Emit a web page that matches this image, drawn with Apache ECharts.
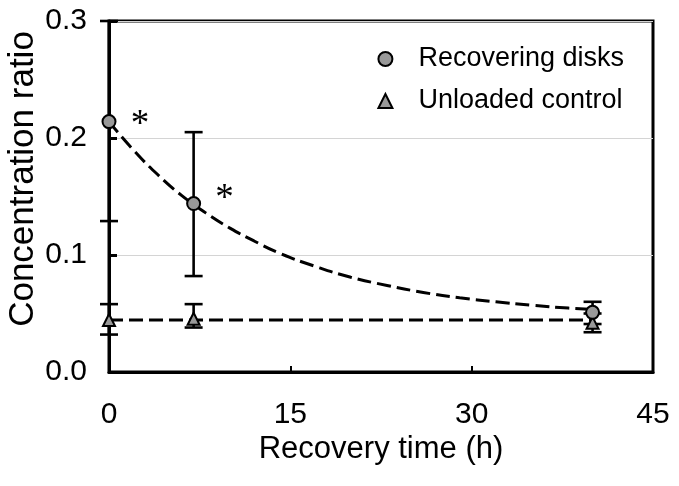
<!DOCTYPE html>
<html>
<head>
<meta charset="utf-8">
<script src="https://cdn.jsdelivr.net/npm/echarts@6/dist/echarts.min.js"></script>
<style>
html,body{margin:0;padding:0;background:#fff;}
#chart{width:679px;height:486px;}
</style>
</head>
<body>
<div id="chart"></div>
<script>
// ---- data ----
const seriesNames = ['Recovering disks', 'Unloaded control'];
const timeRecovering = [0, 7, 40];
const meanRecovering = [0.214, 0.144, 0.051];
const lowRecovering  = [0.129, 0.082, 0.041];
const highRecovering = [0.300, 0.205, 0.060];
const sigRecovering  = ['*', '*', ''];

const timeControl = [0, 7, 40];
const meanControl = [0.0445, 0.0455, 0.042];
const lowControl  = [0.032, 0.038, 0.034];
const highControl = [0.058, 0.058, 0.050];

// dashed fit curves
const fitTime      = [0, 2, 4, 6, 8, 10, 12, 14, 17, 20, 23, 26, 29, 32, 35, 38, 40];
const fitRecovering = [0.214, 0.190, 0.169, 0.151, 0.136, 0.123, 0.112, 0.102, 0.0905, 0.081, 0.074, 0.068, 0.0634, 0.060, 0.057, 0.0546, 0.0534];
const fitControlTime = [0, 40];
const fitControl     = [0.0445, 0.0445];

const xTickMin = 0, xTickMax = 45, xTickStep = 15;
const yTickMin = 0, yTickMax = 0.3, yTickStep = 0.1;

// ---- styles ----
const FONT = 'Liberation Sans, Arial, Helvetica, sans-serif';
const asteriskOffsets = [[31, 4], [31, -4], [0, 0]];

const zip = (a, b) => a.map((v, i) => [v, b[i]]);

function errorBarSeries(times, lows, highs) {
  return {
    type: 'custom',
    z: 3,
    silent: true,
    data: times.map((t, i) => [t, lows[i], highs[i]]),
    renderItem: function (params, api) {
      const x = api.value(0);
      const pLo = api.coord([x, api.value(1)]);
      const pHi = api.coord([x, api.value(2)]);
      const w = 9;
      const st = { stroke: '#000', lineWidth: 2.6 };
      return {
        type: 'group',
        children: [
          { type: 'line', shape: { x1: pLo[0], y1: pLo[1], x2: pHi[0], y2: pHi[1] }, style: st },
          { type: 'line', shape: { x1: pLo[0] - w, y1: pLo[1], x2: pLo[0] + w, y2: pLo[1] }, style: st },
          { type: 'line', shape: { x1: pHi[0] - w, y1: pHi[1], x2: pHi[0] + w, y2: pHi[1] }, style: st }
        ]
      };
    }
  };
}

const chart = echarts.init(document.getElementById('chart'), null, { renderer: 'canvas' });

const option = {
  animation: false,
  backgroundColor: '#fff',
  textStyle: { fontFamily: FONT },
  grid: {
    left: 109, right: 26, top: 21, bottom: 114,
    outerBoundsMode: 'none',
    containLabel: false,
    show: true, borderColor: '#000', borderWidth: 3, backgroundColor: 'transparent'
  },
  legend: {
    orient: 'vertical',
    right: 50,
    top: 39,
    itemGap: 12,
    itemWidth: 14,
    itemHeight: 14,
    align: 'left',
    data: seriesNames,
    textStyle: { fontSize: 27, color: '#000', fontFamily: FONT, padding: [0, 0, 0, 21], lineHeight: 30 }
  },
  xAxis: {
    type: 'value',
    min: xTickMin, max: xTickMax, interval: xTickStep,
    name: 'Recovery time (h)',
    nameLocation: 'middle',
    nameGap: 62,
    nameMoveOverlap: false,
    nameTextStyle: { fontSize: 31, color: '#000', fontFamily: FONT },
    axisLine: { show: true, lineStyle: { color: '#000', width: 3 } },
    axisTick: { show: true, inside: true, length: 6, lineStyle: { color: '#000', width: 2 } },
    axisLabel: { fontSize: 30, color: '#000', margin: 28, fontFamily: FONT },
    splitLine: { show: false }
  },
  yAxis: {
    type: 'value',
    min: yTickMin, max: yTickMax, interval: yTickStep,
    name: 'Concentration ratio',
    nameLocation: 'middle',
    nameGap: 68,
    nameMoveOverlap: false,
    nameTextStyle: { fontSize: 35, color: '#000', fontFamily: FONT, padding: [0, 0, 0, 35] },
    axisLine: { show: true, lineStyle: { color: '#000', width: 3 } },
    axisTick: { show: true, inside: true, length: 8, lineStyle: { color: '#000', width: 3 } },
    axisLabel: { fontSize: 30, color: '#000', margin: 22, fontFamily: FONT, formatter: v => v.toFixed(1) },
    splitLine: { show: true, lineStyle: { color: '#d4d4d4', width: 1 } }
  },
  series: [
    {
      name: 'fit-recovering',
      type: 'line',
      z: 2,
      silent: true,
      smooth: true,
      showSymbol: false,
      symbol: 'none',
      data: zip(fitTime, fitRecovering),
      lineStyle: { color: '#000', width: 3, type: [14, 6] }
    },
    {
      name: 'fit-control',
      type: 'line',
      z: 2,
      silent: true,
      showSymbol: false,
      symbol: 'none',
      data: zip(fitControlTime, fitControl),
      lineStyle: { color: '#000', width: 3, type: [14, 6] }
    },
    errorBarSeries(timeRecovering, lowRecovering, highRecovering),
    errorBarSeries(timeControl, lowControl, highControl),
    {
      name: seriesNames[0],
      type: 'scatter',
      z: 5,
      symbol: 'circle',
      symbolSize: 13,
      itemStyle: { color: '#999', borderColor: '#000', borderWidth: 2, opacity: 1 },
      data: timeRecovering.map((t, i) => ({
        value: [t, meanRecovering[i]],
        label: {
          show: sigRecovering[i] !== '',
          formatter: sigRecovering[i],
          position: 'inside',
          offset: asteriskOffsets[i],
          fontSize: 37,
          fontFamily: 'Liberation Serif, Times New Roman, serif',
          color: '#000'
        }
      }))
    },
    {
      name: seriesNames[1],
      type: 'scatter',
      z: 4,
      symbol: 'triangle',
      symbolSize: 12,
      itemStyle: { color: '#999', borderColor: '#000', borderWidth: 2, opacity: 1 },
      data: zip(timeControl, meanControl)
    }
  ]
};

chart.setOption(option);
</script>
</body>
</html>
